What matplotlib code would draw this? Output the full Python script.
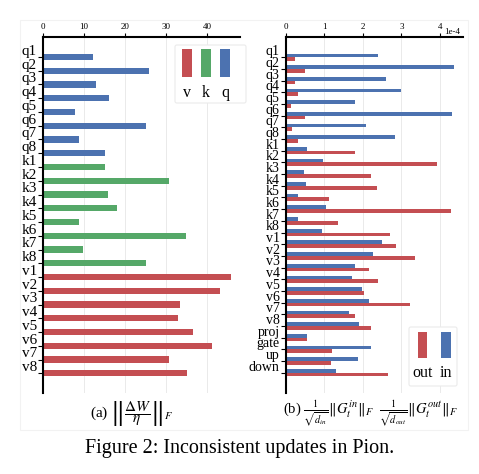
import numpy as np
import matplotlib
matplotlib.use("Agg")
import matplotlib.pyplot as plt
from matplotlib.patches import Rectangle, FancyBboxPatch
from matplotlib.ticker import ScalarFormatter
import matplotlib.transforms as mtransforms

plt.rcParams['font.family'] = ['Liberation Serif', 'DejaVu Serif']
plt.rcParams['mathtext.fontset'] = 'stix'

RED = '#c44e52'
GREEN = '#55a868'
BLUE = '#4c72b0'

# ---- panel (a) data ----
labels_a = ['q1', 'q2', 'q3', 'q4', 'q5', 'q6', 'q7', 'q8',
            'k1', 'k2', 'k3', 'k4', 'k5', 'k6', 'k7', 'k8',
            'v1', 'v2', 'v3', 'v4', 'v5', 'v6', 'v7', 'v8']
values_q = [12.1, 25.9, 12.8, 16.1, 7.8, 25.1, 8.7, 15.1]
values_k = [15.0, 30.7, 15.8, 18.0, 8.8, 34.8, 9.8, 25.2]
values_v = [45.9, 43.2, 33.3, 32.8, 36.6, 41.1, 30.7, 35.0]
legend_a = ['v', 'k', 'q']

# ---- panel (b) data ----
labels_b = ['q1', 'q2', 'q3', 'q4', 'q5', 'q6', 'q7', 'q8',
            'k1', 'k2', 'k3', 'k4', 'k5', 'k6', 'k7', 'k8',
            'v1', 'v2', 'v3', 'v4', 'v5', 'v6', 'v7', 'v8',
            'proj', 'gate', 'up', 'down']
values_in = [2.39, 4.36, 2.61, 2.98, 1.79, 4.31, 2.08, 2.84,
             0.54, 0.95, 0.47, 0.53, 0.30, 1.05, 0.31, 0.93,
             2.50, 2.26, 1.80, 1.72, 1.98, 2.15, 1.65, 1.91,
             0.54, 2.20, 1.87, 1.31]
values_out = [0.23, 0.49, 0.24, 0.30, 0.14, 0.49, 0.16, 0.30,
              1.79, 3.92, 2.22, 2.36, 1.13, 4.30, 1.36, 2.71,
              2.87, 3.35, 2.17, 2.40, 2.03, 3.23, 1.80, 2.21,
              0.55, 1.19, 1.17, 2.66]
SCALE = 1e-4
legend_b = ['out', 'in']

W, H = 479, 474
fig = plt.figure(figsize=(W / 100, H / 100), dpi=100)

# faint frame around subfigures
fig.patches.append(Rectangle((20 / W, 1 - 430 / H), (468 - 20) / W, (430 - 20) / H,
                             transform=fig.transFigure, fill=False,
                             edgecolor='#f2f2f2', linewidth=0.8))

def px_axes(x0, y0, x1, y1):
    return fig.add_axes([x0 / W, 1 - y1 / H, (x1 - x0) / W, (y1 - y0) / H])

def style_axes(ax, ylabelsize):
    ax.xaxis.tick_top()
    for s in ['right', 'bottom']:
        ax.spines[s].set_visible(False)
    for s in ['left', 'top']:
        ax.spines[s].set_linewidth(1.5)
        ax.spines[s].set_color('black')
    ax.grid(axis='x', color='#e6e6e6', linewidth=0.6)
    ax.set_axisbelow(True)
    ax.tick_params(axis='x', labelsize=6.5, length=3, width=0.8, pad=1.5)
    ax.tick_params(axis='y', labelsize=ylabelsize, length=3.5, width=0.8, pad=1)
    for lab in ax.get_yticklabels():
        lab.set_verticalalignment('baseline')
        lab.set_transform(lab.get_transform() +
                          mtransforms.ScaledTranslation(0, 1.5 / 72, fig.dpi_scale_trans))

def draw_legend(ax, box, patches, labels, colors):
    bx0, by0, bx1, by1 = box
    tr = fig.transFigure
    fig.patches.append(FancyBboxPatch((bx0 / W, 1 - by1 / H), (bx1 - bx0) / W, (by1 - by0) / H,
                                      boxstyle='round,pad=0,rounding_size=0.004',
                                      transform=tr, facecolor='white',
                                      edgecolor='#ebebeb', linewidth=0.8, zorder=5))
    for (px0, py0, px1, py1, lx, ly), lab, c in zip(patches, labels, colors):
        fig.patches.append(Rectangle((px0 / W, 1 - py1 / H), (px1 - px0) / W, (py1 - py0) / H,
                                     transform=tr, facecolor=c, edgecolor='none', zorder=6))
        fig.text(lx / W, 1 - ly / H, lab, ha='center', va='center', fontsize=11.5, zorder=7)

# ---------------- panel (a) ----------------
ax1 = px_axes(43, 37, 240, 393)
ya = np.arange(len(labels_a))
vals_a = values_q + values_k + values_v
cols_a = [BLUE] * len(values_q) + [GREEN] * len(values_k) + [RED] * len(values_v)
ax1.barh(ya, vals_a, height=0.46, color=cols_a, edgecolor='none')
ax1.set_yticks(ya)
ax1.set_yticklabels(labels_a)
ax1.set_xlim(0, 48)
ax1.set_xticks([0, 10, 20, 30, 40])
ax1.set_ylim(len(labels_a) - 1 + 1.43, -1.45)
style_axes(ax1, 11)
draw_legend(ax1, (175, 45, 246, 103),
            [(182, 49, 192, 77, 187, 93), (201, 49, 211, 77, 206, 93), (220, 49, 230, 77, 225, 93)],
            legend_a, [RED, GREEN, BLUE])

# ---------------- panel (b) ----------------
ax2 = px_axes(286, 37, 463, 393)
yb = np.arange(len(labels_b))
bh = 0.32
ax2.barh(yb - bh / 2, np.array(values_in) * SCALE, height=bh, color=BLUE, edgecolor='none')
ax2.barh(yb + bh / 2, np.array(values_out) * SCALE, height=bh, color=RED, edgecolor='none')
ax2.set_yticks(yb)
ax2.set_yticklabels(labels_b)
ax2.set_xlim(0, 4.6 * SCALE)
ax2.set_xticks(np.array([0, 1, 2, 3, 4]) * SCALE)
fmt = ScalarFormatter(useMathText=False)
fmt.set_scientific(True)
fmt.set_powerlimits((0, 0))
ax2.xaxis.set_major_formatter(fmt)
ax2.set_ylim(len(labels_b) - 1 + 1.74, -1.74)
style_axes(ax2, 10)
ax2.xaxis.get_offset_text().set_visible(False)
fig.text(452 / W, 1 - 32 / H, '1e-4', ha='center', va='center', fontsize=6.5)
draw_legend(ax2, (409, 327, 457, 386),
            [(418, 332, 427, 358, 422.5, 373), (441, 332, 451, 358, 446, 373)],
            legend_b, [RED, BLUE])

# captions
fig.text(132 / W, 1 - 413 / H,
         r'(a) $\left\|\dfrac{\Delta W}{\eta}\right\|_F$',
         ha='center', va='center', fontsize=11)
fig.text(370 / W, 1 - 413 / H,
         r'(b) $\frac{1}{\sqrt{d_{in}}}\|G_t^{in}\|_F\ \ \frac{1}{\sqrt{d_{out}}}\|G_t^{out}\|_F$',
         ha='center', va='center', fontsize=10.5)
fig.text(240 / W, 1 - 448 / H, 'Figure 2: Inconsistent updates in Pion.',
         ha='center', va='center', fontsize=14.5)

fig.savefig('out.png', dpi=100)
